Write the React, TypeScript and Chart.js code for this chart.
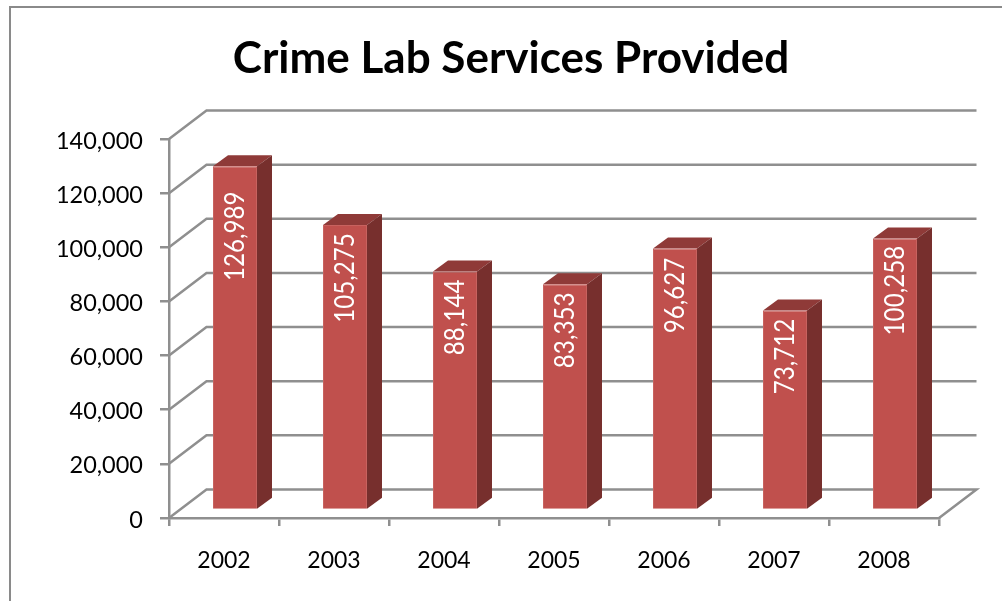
import React, { useEffect, useRef } from "react";
import { Chart, registerables } from "chart.js";

Chart.register(...registerables);

const years = ["2002", "2003", "2004", "2005", "2006", "2007", "2008"];
const servicesProvided = [126989, 105275, 88144, 83353, 96627, 73712, 100258];
// Distance from the top of each bar's front face to the middle of its value label.
const labelDrop = [70, 53, 46, 46, 47, 46, 52];

const FONT = "Lato, Carlito, sans-serif";
const GRID = "#8f8f8f";
const FRONT = "#c0504d";
const TOP = "#8f3a38";
const SIDE = "#772f2d";

const WALL = { dx: 37.5, dy: -28.5 };
const BAR_SHIFT = { dx: 11, dy: -8 };
const BAR_DEPTH = { dx: 15, dy: -11 };
// The title is centred over the frame's visible span rather than the plot.
const TITLE_BOX_LEFT = 83;

const titleBoxPlugin = {
  id: "titleBox",
  afterLayout(chart: any) {
    if (chart.titleBlock) chart.titleBlock.left = TITLE_BOX_LEFT;
  },
};

// Perspective walls: diagonals on the left and floor, horizontals on the back.
const wallsPlugin = {
  id: "walls",
  beforeDatasetsDraw(chart: any) {
    const { ctx, scales } = chart;
    const { x: xScale, y: yScale } = scales;
    const left = xScale.left;
    const right = xScale.right;
    ctx.save();
    ctx.strokeStyle = "#8a8a8a";
    ctx.lineWidth = 2;
    ctx.strokeRect(10, 7, 1100, 800);
    ctx.strokeStyle = GRID;
    ctx.lineWidth = 2.5;
    ctx.lineJoin = "miter";
    yScale.ticks.forEach((tick: any) => {
      const y = yScale.getPixelForValue(tick.value);
      ctx.beginPath();
      ctx.moveTo(left, y);
      ctx.lineTo(left + WALL.dx, y + WALL.dy);
      ctx.lineTo(right + WALL.dx, y + WALL.dy);
      if (tick.value === 0) ctx.lineTo(right, y);
      ctx.stroke();
    });
    ctx.restore();
  },
};

// Pushes the bars back from the front plane and gives them a top and a side face.
const barFacesPlugin = {
  id: "barFaces",
  beforeDatasetDraw(chart: any, args: any) {
    const { ctx } = chart;
    const meta = chart.getDatasetMeta(args.index);
    ctx.save();
    ctx.translate(BAR_SHIFT.dx, BAR_SHIFT.dy);
    meta.data.forEach((bar: any) => {
      const { x, y, base, width } = bar.getProps(["x", "y", "base", "width"], true);
      const l = x - width / 2;
      const r = x + width / 2;
      ctx.fillStyle = TOP;
      ctx.beginPath();
      ctx.moveTo(l, y);
      ctx.lineTo(l + BAR_DEPTH.dx, y + BAR_DEPTH.dy);
      ctx.lineTo(r + BAR_DEPTH.dx, y + BAR_DEPTH.dy);
      ctx.lineTo(r, y);
      ctx.closePath();
      ctx.fill();
      ctx.fillStyle = SIDE;
      ctx.beginPath();
      ctx.moveTo(r, y);
      ctx.lineTo(r + BAR_DEPTH.dx, y + BAR_DEPTH.dy);
      ctx.lineTo(r + BAR_DEPTH.dx, base + BAR_DEPTH.dy);
      ctx.lineTo(r, base);
      ctx.closePath();
      ctx.fill();
    });
  },
  afterDatasetDraw(chart: any, args: any) {
    const { ctx } = chart;
    const meta = chart.getDatasetMeta(args.index);
    ctx.fillStyle = "#ffffff";
    ctx.font = `26px ${FONT}`;
    ctx.textAlign = "center";
    ctx.textBaseline = "middle";
    meta.data.forEach((bar: any, i: number) => {
      const { x, y } = bar.getProps(["x", "y"], true);
      ctx.save();
      ctx.translate(x + 1, y + labelDrop[i]);
      ctx.rotate(-Math.PI / 2);
      ctx.scale(0.93, 1);
      ctx.fillText(servicesProvided[i].toLocaleString("en-US"), 0, 0);
      ctx.restore();
    });
    ctx.restore();
  },
};

export default function App() {
  const canvasRef = useRef<HTMLCanvasElement>(null);

  useEffect(() => {
    const chart = new Chart(canvasRef.current!, {
      type: "bar",
      data: {
        labels: years,
        datasets: [
          {
            label: "Services provided",
            data: servicesProvided,
            backgroundColor: FRONT,
            borderColor: "#c8625f",
            borderWidth: 1,
            barPercentage: 0.4,
            categoryPercentage: 1,
            clip: false,
          } as any,
        ],
      },
      options: {
        responsive: false,
        animation: false,
        layout: { padding: { left: 0, right: 63, top: 0, bottom: 0 } },
        plugins: {
          legend: { display: false },
          tooltip: { enabled: false },
          title: {
            display: true,
            text: "Crime Lab Services Provided",
            color: "#000000",
            font: { family: FONT, size: 44, weight: "bold", lineHeight: 1 },
            padding: { top: 37, bottom: 58 },
          },
        },
        scales: {
          x: {
            grid: { drawOnChartArea: false, color: GRID, lineWidth: 2.5, tickLength: 8 },
            border: { color: GRID, width: 2.5 },
            ticks: {
              color: "#000000",
              font: { family: FONT, size: 23 },
              padding: 21,
              maxRotation: 0,
            },
            afterFit(scale: any) {
              scale.height = 83;
            },
          },
          y: {
            min: 0,
            max: 140000,
            grid: { drawOnChartArea: false, color: GRID, lineWidth: 2.5, tickLength: 9 },
            border: { color: GRID, width: 2.5 },
            ticks: {
              stepSize: 20000,
              color: "#000000",
              font: { family: FONT, size: 23.5 },
              padding: 17,
              labelOffset: 2,
              callback: (value: any) => Number(value).toLocaleString("en-US"),
            },
            afterFit(scale: any) {
              scale.width = 169;
            },
          },
        },
      },
      plugins: [titleBoxPlugin, wallsPlugin, barFacesPlugin],
    } as any);
    return () => chart.destroy();
  }, []);

  return (
    <div style={{ position: "fixed", left: 0, top: 0 }}>
      <canvas ref={canvasRef} width={1002} height={601} style={{ display: "block" }} />
    </div>
  );
}
